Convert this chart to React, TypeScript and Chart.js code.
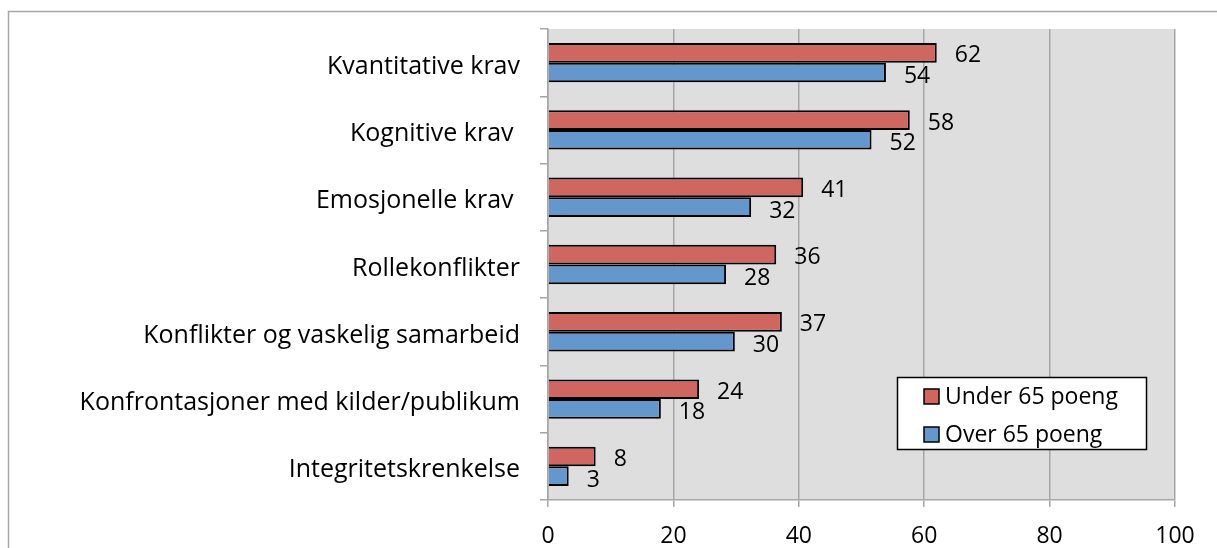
import React, { useEffect, useRef } from "react";
import { Chart, registerables } from "chart.js";

Chart.register(...registerables);

const categories = [
  "Kvantitative krav",
  "Kognitive krav ",
  "Emosjonelle krav ",
  "Rollekonflikter",
  "Konflikter og vaskelig samarbeid",
  "Konfrontasjoner med kilder/publikum",
  "Integritetskrenkelse",
];
const underValues = [62.0, 57.7, 40.7, 36.4, 37.3, 24.1, 7.6];
const overValues = [53.9, 51.6, 32.4, 28.4, 29.8, 18.0, 3.3];
const underLabels = ["62", "58", "41", "36", "37", "24", "8"];
const overLabels = ["54", "52", "32", "28", "30", "18", "3"];
const seriesNames = ["Under 65 poeng", "Over 65 poeng"];
const xTicks = [0, 20, 40, 60, 80, 100];

const RED = "#cf6660";
const BLUE = "#6497cc";
const FONT = "'Open Sans', Lato, sans-serif";
const FS = 23;
const CAT_FS = 25;

const framePlugin = {
  id: "frame",
  beforeDraw(chart: any) {
    const { ctx, chartArea } = chart;
    ctx.save();
    ctx.fillStyle = "#ffffff";
    ctx.fillRect(0, 0, chart.width, chart.height);
    ctx.strokeStyle = "#a6a6a6";
    ctx.lineWidth = 1.5;
    ctx.beginPath();
    ctx.moveTo(8.5, chart.height + 2);
    ctx.lineTo(8.5, 11.5);
    ctx.lineTo(chart.width + 2, 11.5);
    ctx.stroke();
    ctx.fillStyle = "#dedede";
    ctx.fillRect(chartArea.left, chartArea.top, chartArea.right - chartArea.left, chartArea.bottom - chartArea.top);
    ctx.restore();
  },
};

const labelPlugin = {
  id: "valueLabels",
  afterDatasetsDraw(chart: any) {
    const { ctx } = chart;
    ctx.save();
    ctx.font = `${FS}px ${FONT}`;
    ctx.fillStyle = "#000";
    ctx.textAlign = "left";
    ctx.textBaseline = "middle";
    const sets = [underLabels, overLabels];
    const dy = [3, 4];
    chart.data.datasets.forEach((_: any, di: number) => {
      const meta = chart.getDatasetMeta(di);
      meta.data.forEach((el: any, i: number) => {
        ctx.fillText(sets[di][i], el.x + 18, el.y + dy[di]);
      });
    });
    ctx.restore();
  },
};

const legendPlugin = {
  id: "boxLegend",
  afterDraw(chart: any) {
    const { ctx } = chart;
    ctx.save();
    const x0 = 897, y0 = 377, w = 249, h = 72;
    ctx.fillStyle = "#fff";
    ctx.fillRect(x0, y0, w, h);
    ctx.strokeStyle = "#000";
    ctx.lineWidth = 1.5;
    ctx.strokeRect(x0 + 0.5, y0 + 0.5, w, h);
    const colors = [RED, BLUE];
    const rows = [396, 434];
    ctx.font = `${FS}px ${FONT}`;
    ctx.textAlign = "left";
    ctx.textBaseline = "middle";
    seriesNames.forEach((name, i) => {
      ctx.fillStyle = colors[i];
      ctx.fillRect(924, rows[i] - 7, 15, 15);
      ctx.strokeStyle = "#000";
      ctx.lineWidth = 1.5;
      ctx.strokeRect(924, rows[i] - 7, 15, 15);
      ctx.fillStyle = "#000";
      ctx.fillText(name, 945, rows[i] + 1);
    });
    ctx.restore();
  },
};

export default function App() {
  const ref = useRef<HTMLCanvasElement>(null);
  useEffect(() => {
    if (!ref.current) return;
    const chart = new Chart(ref.current, {
      type: "bar",
      data: {
        labels: categories,
        datasets: [
          {
            label: seriesNames[0],
            data: underValues,
            backgroundColor: RED,
            borderColor: "#000",
            borderWidth: 2,
            categoryPercentage: 0.585,
            barPercentage: 1,
          },
          {
            label: seriesNames[1],
            data: overValues,
            backgroundColor: BLUE,
            borderColor: "#000",
            borderWidth: 2,
            categoryPercentage: 0.585,
            barPercentage: 1,
          },
        ],
      },
      options: {
        indexAxis: "y",
        animation: false,
        responsive: false,
        layout: { padding: { left: 0, top: 29, right: 42, bottom: 0 } },
        plugins: {
          legend: { display: false },
          tooltip: { enabled: false },
        },
        scales: {
          x: {
            min: 0,
            max: 100,
            afterBuildTicks(scale: any) {
              scale.ticks = xTicks.map((v) => ({ value: v }));
            },
            afterFit(scale: any) {
              scale.height = 48;
              scale.paddingLeft = 0;
              scale.paddingRight = 0;
            },
            grid: {
              color: "#a6a6a6",
              lineWidth: 1.5,
              tickLength: 7,
            },
            border: { color: "#a6a6a6", width: 1.5 },
            ticks: {
              font: { family: FONT, size: FS },
              color: "#000",
              padding: 16,
            },
          },
          y: {
            afterFit(scale: any) {
              scale.width = 548;
              scale.paddingTop = 0;
              scale.paddingBottom = 0;
            },
            grid: {
              offset: true,
              drawOnChartArea: false,
              color: "#a6a6a6",
              lineWidth: 1.5,
              tickLength: 8,
            },
            border: { color: "#a6a6a6", width: 1.5 },
            ticks: {
              font: { family: FONT, size: CAT_FS },
              color: "#000",
              padding: 20,
              labelOffset: 4,
            },
          },
        },
      },
      plugins: [framePlugin, labelPlugin, legendPlugin],
    });
    return () => chart.destroy();
  }, []);
  return (
    <div style={{ position: "fixed", left: 0, top: 0, width: 1217, height: 548 }}>
      <canvas ref={ref} width={1217} height={548} style={{ width: 1217, height: 548 }} />
    </div>
  );
}
